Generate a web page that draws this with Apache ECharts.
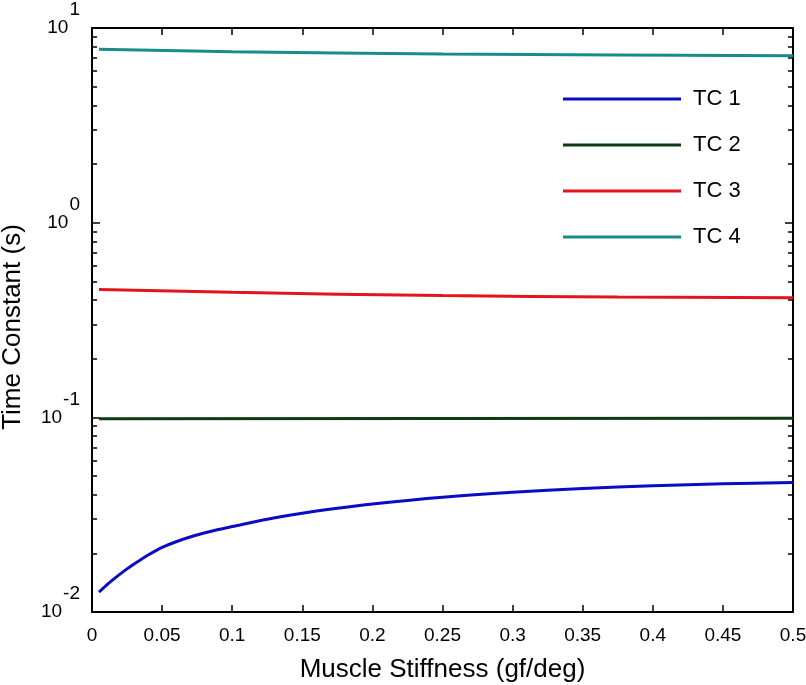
<!DOCTYPE html>
<html>
<head>
<meta charset="utf-8">
<script src="https://cdn.jsdelivr.net/npm/echarts@6/dist/echarts.min.js"></script>
<style>html,body{margin:0;padding:0;background:#fff}#c{width:806px;height:685px}</style>
</head>
<body>
<div id="c"></div>
<script>
// ---- data ----
const seriesNames = ['TC 1', 'TC 2', 'TC 3', 'TC 4'];
const tc1X = [0.005, 0.01, 0.015, 0.02, 0.025, 0.03, 0.035, 0.04, 0.045, 0.05, 0.06, 0.07, 0.08, 0.09, 0.1, 0.125, 0.15, 0.175, 0.2, 0.25, 0.3, 0.35, 0.4, 0.45, 0.5];
const tc1Y = [0.01264, 0.01365, 0.01465, 0.01565, 0.01665, 0.01764, 0.01863, 0.01961, 0.02055, 0.02149, 0.02296, 0.02427, 0.02544, 0.02652, 0.02748, 0.02997, 0.03217, 0.03413, 0.03591, 0.03887, 0.04124, 0.04313, 0.04453, 0.04554, 0.04625];
const tc2X = [0.005, 0.25, 0.5];
const tc2Y = [0.0982, 0.0987, 0.0990];
const tc3X = [0.005, 0.1, 0.25, 0.375, 0.5];
const tc3Y = [0.453, 0.4385, 0.422, 0.415, 0.411];
const tc4X = [0.005, 0.1, 0.25, 0.375, 0.5];
const tc4Y = [7.78, 7.56, 7.35, 7.27, 7.21];
const minorTickValues = [0.02,0.03,0.04,0.05,0.06,0.07,0.08,0.09,0.2,0.3,0.4,0.5,0.6,0.7,0.8,0.9,2,3,4,5,6,7,8,9];
const xTitle = 'Muscle Stiffness (gf/deg)';
const yTitle = 'Time Constant (s)';
const colors = ['#0b0bc4', '#0e3a12', '#e3141c', '#178c8a'];

const pairs = (xs, ys) => xs.map((x, i) => [x, ys[i]]);
const FONT = "'Liberation Sans', Arial, sans-serif";

const chart = echarts.init(document.getElementById('c'), null, {renderer: 'canvas'});

const logAxisBase = {
  type: 'log', logBase: 10, min: 0.01, max: 10, gridIndex: 0, offset: 0,
  splitLine: {show: false}, minorTick: {show: false}
};

const option = {
  backgroundColor: '#fff',
  animation: false,
  color: colors,
  grid: {left: 92, right: 13, top: 28, bottom: 73, containLabel: false, outerBoundsMode: 'none'},
  legend: {
    orient: 'vertical', left: 558, top: 83,
    itemWidth: 118, itemHeight: 3, itemGap: 24,
    icon: 'rect',
    textStyle: {fontFamily: FONT, fontSize: 22, color: '#000', padding: [0, 0, 0, 7]},
    data: seriesNames
  },
  graphic: [{
    type: 'text', x: 13, y: 327, rotation: Math.PI / 2,
    style: {text: yTitle, fontFamily: FONT, fontSize: 26, fill: '#000', align: 'center', verticalAlign: 'middle'}
  }],
  xAxis: [
    {
      type: 'value', min: 0, max: 0.5, interval: 0.05, position: 'bottom', offset: 0,
      name: xTitle, nameLocation: 'middle', nameGap: 45,
      nameTextStyle: {fontFamily: FONT, fontSize: 26, color: '#000'},
      axisLine: {show: true, lineStyle: {color: '#000', width: 2}},
      axisTick: {show: true, inside: true, length: 7, lineStyle: {color: '#000', width: 1.5}},
      axisLabel: {fontFamily: FONT, fontSize: 19, color: '#000', margin: 14},
      splitLine: {show: false}
    },
    {
      type: 'value', min: 0, max: 0.5, interval: 0.05, position: 'top', offset: 0,
      axisLine: {show: true, lineStyle: {color: '#000', width: 2}},
      axisTick: {show: true, inside: true, length: 7, lineStyle: {color: '#000', width: 1.5}},
      axisLabel: {show: false},
      splitLine: {show: false}
    }
  ],
  yAxis: [
    Object.assign({}, logAxisBase, {
      position: 'left',
      axisLine: {show: true, lineStyle: {color: '#000', width: 2}},
      axisTick: {show: true, inside: true, length: 8, lineStyle: {color: '#000', width: 1.5}},
      axisLabel: {
        margin: 12,
        formatter: function (v) {
          const e = Math.round(Math.log10(v));
          return '{b|10}{s|' + e + '}';
        },
        rich: {
          b: {fontFamily: FONT, fontSize: 19, color: '#000'},
          s: {fontFamily: FONT, fontSize: 19, color: '#000', padding: [0, 0, 36, 1]}
        }
      }
    }),
    Object.assign({}, logAxisBase, {
      position: 'left',
      axisLine: {show: false},
      axisTick: {show: true, inside: true, length: 5, customValues: minorTickValues, lineStyle: {color: '#000', width: 1.5}},
      axisLabel: {show: false}
    }),
    Object.assign({}, logAxisBase, {
      position: 'right',
      axisLine: {show: true, lineStyle: {color: '#000', width: 2}},
      axisTick: {show: true, inside: true, length: 8, lineStyle: {color: '#000', width: 1.5}},
      axisLabel: {show: false}
    }),
    Object.assign({}, logAxisBase, {
      position: 'right',
      axisLine: {show: false},
      axisTick: {show: true, inside: true, length: 5, customValues: minorTickValues, lineStyle: {color: '#000', width: 1.5}},
      axisLabel: {show: false}
    })
  ],
  series: [
    {name: seriesNames[0], type: 'line', data: pairs(tc1X, tc1Y), smooth: 0.3, showSymbol: false, lineStyle: {width: 3}},
    {name: seriesNames[1], type: 'line', data: pairs(tc2X, tc2Y), smooth: true, showSymbol: false, lineStyle: {width: 3}},
    {name: seriesNames[2], type: 'line', data: pairs(tc3X, tc3Y), smooth: true, showSymbol: false, lineStyle: {width: 3}},
    {name: seriesNames[3], type: 'line', data: pairs(tc4X, tc4Y), smooth: true, showSymbol: false, lineStyle: {width: 3}}
  ]
};
chart.setOption(option);
</script>
</body>
</html>
